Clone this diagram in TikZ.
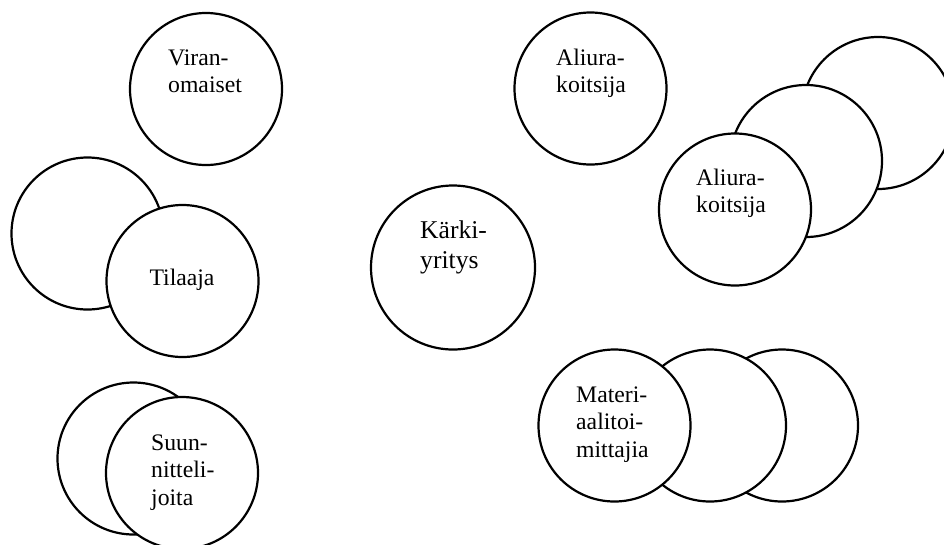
\documentclass[tikz,border=0pt]{standalone}
\usepackage{fontspec}
\setmainfont{Liberation Serif}
\newcommand{\linesat}[1]{\begin{tabular}[t]{@{}l@{}}#1\end{tabular}}
\begin{document}
\begin{tikzpicture}[x=1pt,y=-1pt,
  ring/.style={circle,draw=black,fill=white,line width=2.2pt,inner sep=0pt,minimum size=152pt},
  bigring/.style={ring,minimum size=164pt},
  lbl/.style={inner sep=0pt,anchor=base west,font=\fontsize{23.7}{27.7}\selectfont},
  biglbl/.style={lbl,font=\fontsize{25.6}{30}\selectfont}]
\useasboundingbox[fill=white] (0,0) rectangle (944,544);
% Viranomaiset
\node[ring] (vir) at (206,89) {};
% Tilaaja group
\node[ring] (tilb) at (87.5,233.5) {};
\node[ring] (tilf) at (182.5,281) {};
% Suunnittelijoita group
\node[ring] (suub) at (133.5,458.5) {};
\node[ring] (suuf) at (182,473) {};
% Karkiyritys
\node[bigring] (kar) at (453,267.5) {};
% Aliurakoitsija single
\node[ring] (ali) at (590.5,88.5) {};
% Aliurakoitsija group
\node[ring] (alir) at (878,113) {};
\node[ring] (alim) at (806,161) {};
\node[ring] (alif) at (735,209.5) {};
% Materiaalitoimittajia group
\node[ring] (matr) at (782,425.5) {};
\node[ring] (matm) at (710,425.5) {};
\node[ring] (matf) at (614.5,425.5) {};
% texts
\node[lbl] (tvir) at (168,65) {\linesat{Viran-\\omaiset}};
\node[lbl,anchor=base] (ttil) at (182,285) {Tilaaja};
\node[lbl] (tsuu) at (151,450) {\linesat{Suun-\\nitteli-\\joita}};
\node[biglbl] (tkar) at (420,238) {\linesat{Kärki-\\yritys}};
\node[lbl] (tali) at (556,65) {\linesat{Aliura-\\koitsija}};
\node[lbl] (talif) at (696,185) {\linesat{Aliura-\\koitsija}};
\node[lbl] (tmat) at (576,402) {\linesat{Materi-\\aalitoi-\\mittajia}};
\end{tikzpicture}
\end{document}
